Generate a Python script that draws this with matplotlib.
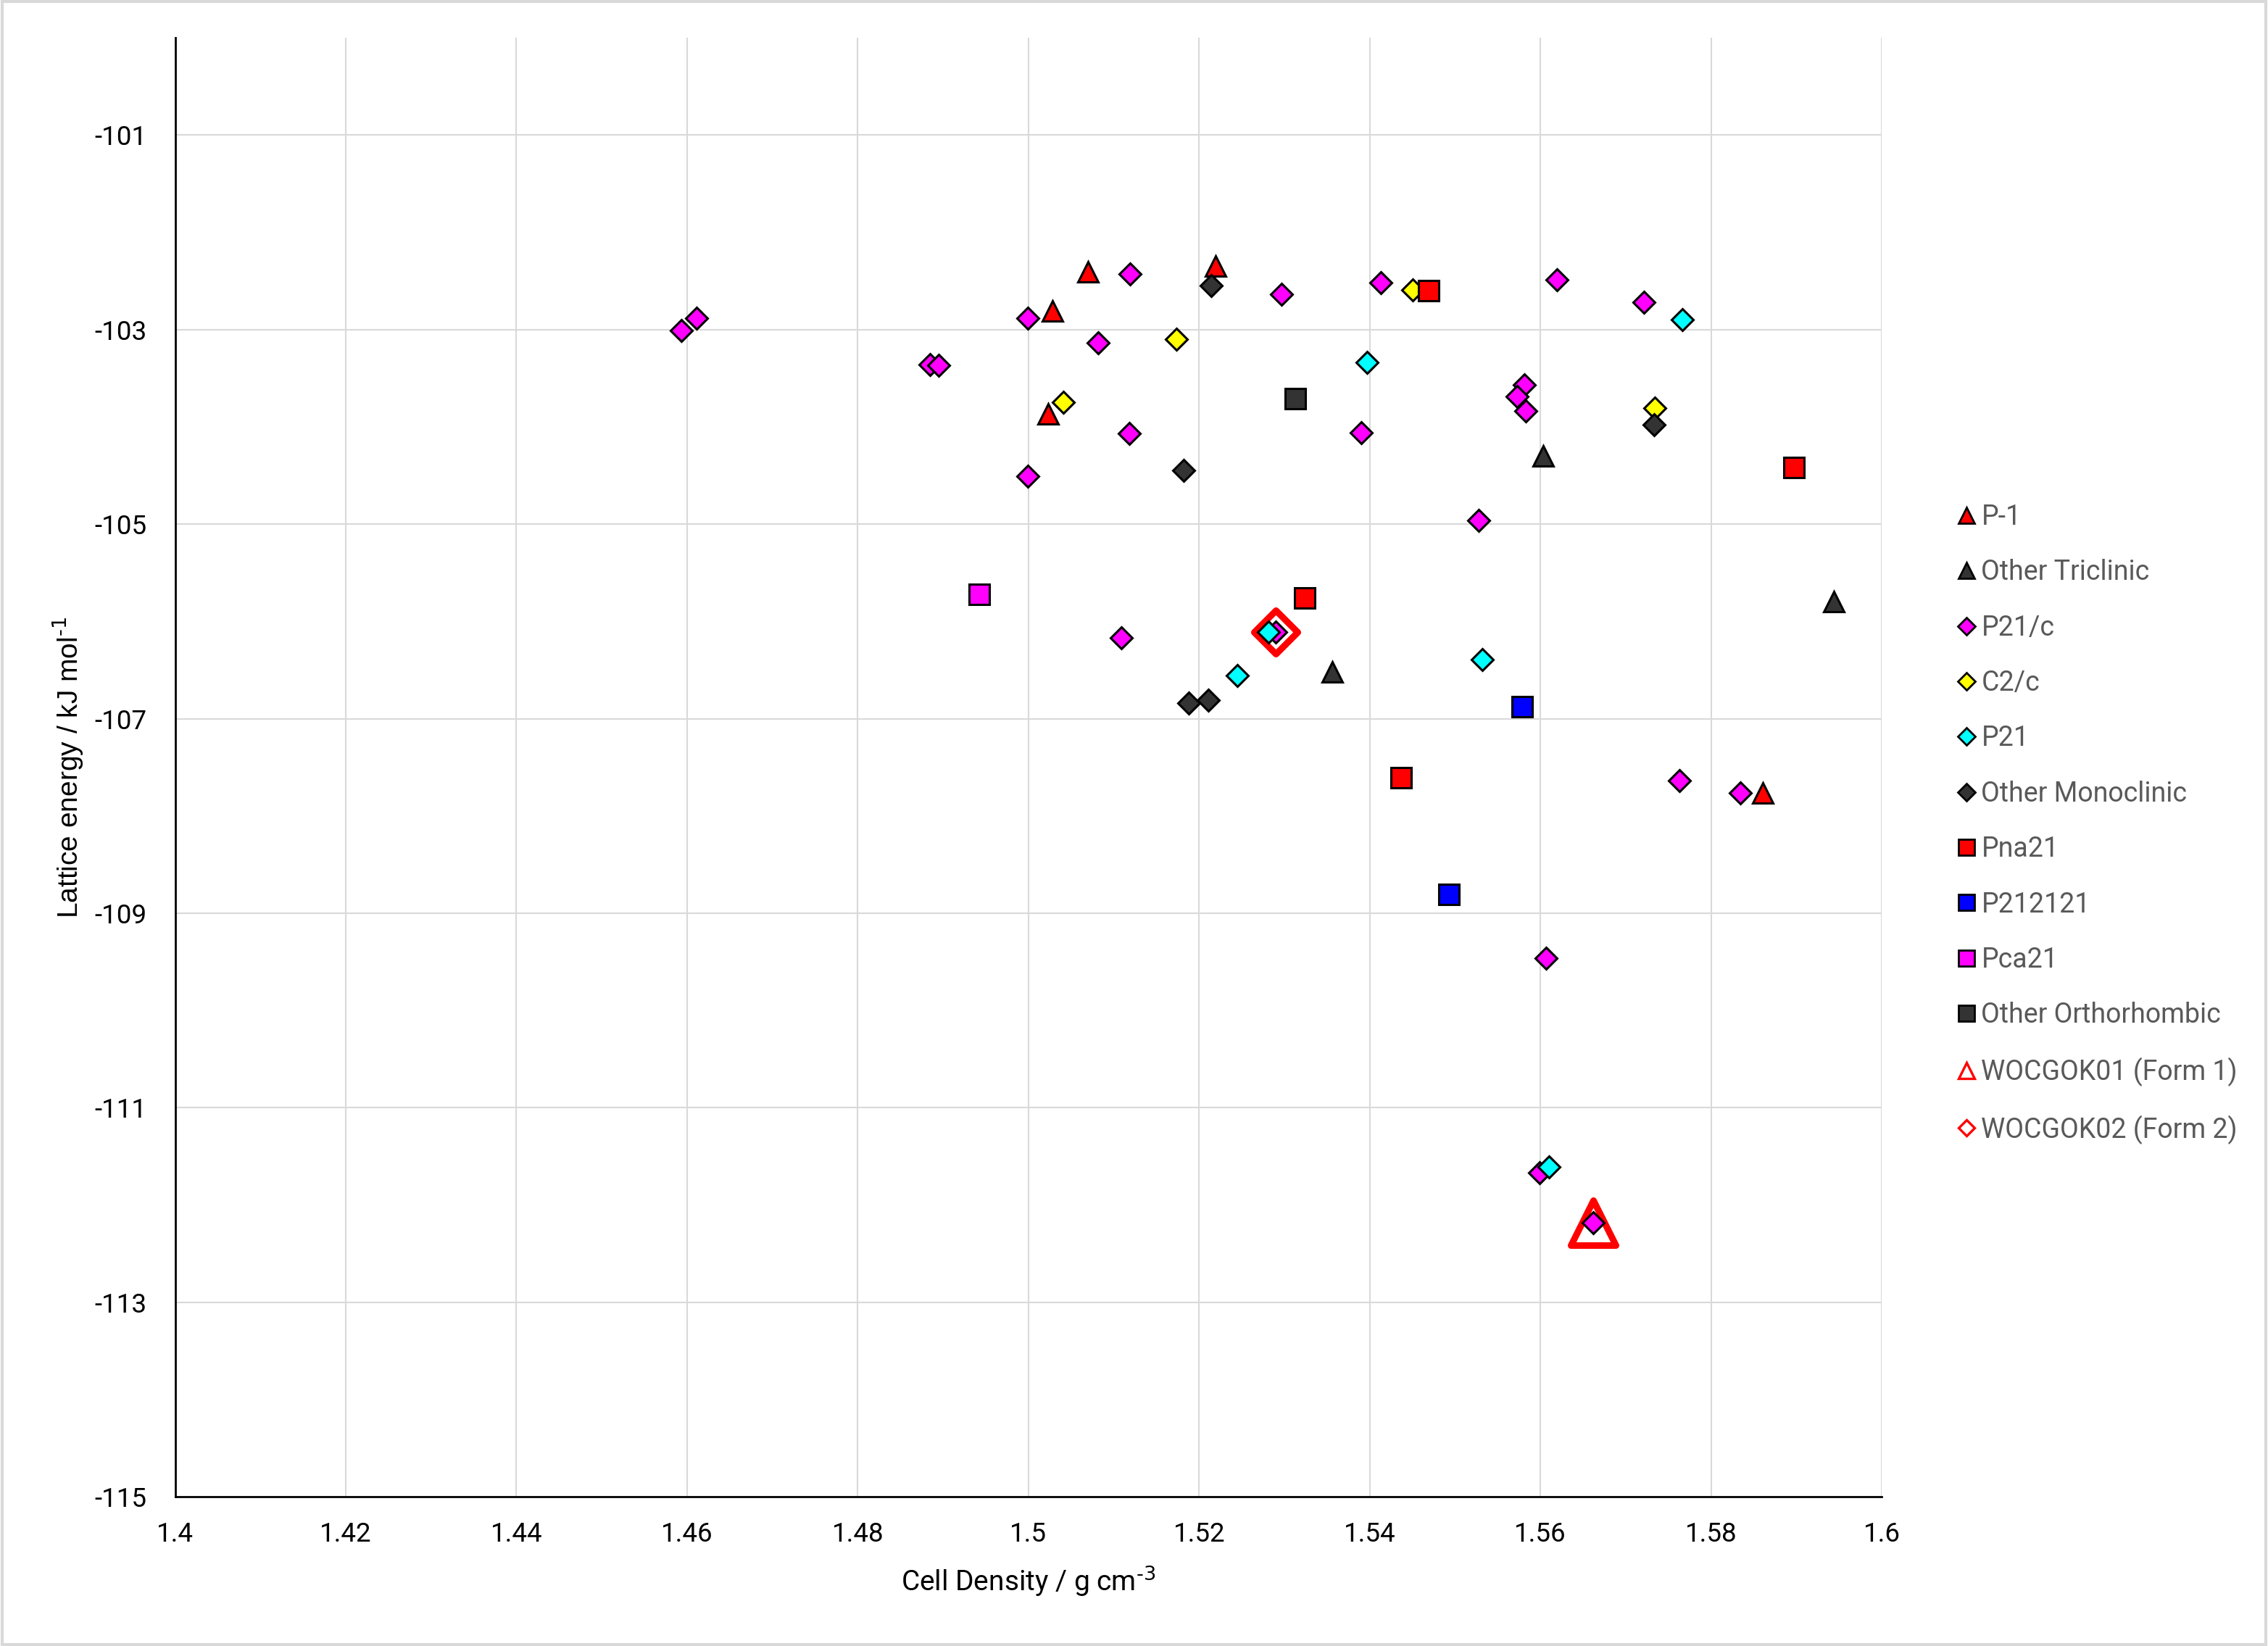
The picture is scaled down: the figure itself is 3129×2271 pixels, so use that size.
import matplotlib
matplotlib.use('Agg')
import matplotlib.pyplot as plt
from matplotlib.lines import Line2D
from matplotlib.markers import MarkerStyle
from matplotlib.patches import Rectangle

plt.rcParams['font.family'] = ['Roboto', 'DejaVu Sans']
plt.rcParams['axes.unicode_minus'] = False

# Data: cell density (g cm-3) vs lattice energy (kJ mol-1)
p1_x = [1.5070, 1.5219, 1.5028, 1.5023, 1.5861]
p1_y = [-102.41, -102.35, -102.81, -103.87, -107.76]

tric_x = [1.5603, 1.5356, 1.5944]
tric_y = [-104.30, -106.52, -105.80]

p21c_x = [1.4593, 1.4611, 1.4885, 1.4895, 1.4999, 1.5119, 1.5082, 1.5118, 1.4999,
          1.5297, 1.5413, 1.5619, 1.5721, 1.5581, 1.5573, 1.5583, 1.5390, 1.5528,
          1.5109, 1.5290, 1.5763, 1.5834, 1.5607, 1.5599, 1.5662]
p21c_y = [-103.01, -102.88, -103.36, -103.37, -102.88, -102.43, -103.14, -104.07, -104.51,
          -102.64, -102.52, -102.49, -102.72, -103.57, -103.69, -103.84, -104.06, -104.96,
          -106.17, -106.11, -107.64, -107.76, -109.46, -111.67, -112.18]

c2c_x = [1.5173, 1.5041, 1.5450, 1.5734]
c2c_y = [-103.10, -103.75, -102.59, -103.81]

p21_x = [1.5766, 1.5397, 1.5281, 1.5245, 1.5532, 1.5610]
p21_y = [-102.90, -103.34, -106.11, -106.56, -106.39, -111.61]

mono_x = [1.5214, 1.5182, 1.5733, 1.5188, 1.5211]
mono_y = [-102.55, -104.45, -103.98, -106.84, -106.81]

pna21_x = [1.5469, 1.5897, 1.5324, 1.5437]
pna21_y = [-102.60, -104.42, -105.76, -107.61]

p212121_x = [1.5579, 1.5493]
p212121_y = [-106.88, -108.81]

pca21_x = [1.4942]
pca21_y = [-105.72]

ortho_x = [1.5313]
ortho_y = [-103.71]

form1_x = [1.5662]
form1_y = [-112.18]
form2_x = [1.5290]
form2_y = [-106.11]

dark = '#333333'

# (label, x, y, marker, face colour, size)
series = [
    ('P-1', p1_x, p1_y, '^', '#ff0000', 20),
    ('Other Triclinic', tric_x, tric_y, '^', dark, 20),
    ('P21/c', p21c_x, p21c_y, 'D', '#ff00ff', 15),
    ('C2/c', c2c_x, c2c_y, 'D', '#ffff00', 15),
    ('P21', p21_x, p21_y, 'D', '#00ffff', 15),
    ('Other Monoclinic', mono_x, mono_y, 'D', dark, 15),
    ('Pna21', pna21_x, pna21_y, 's', '#ff0000', 20),
    ('P212121', p212121_x, p212121_y, 's', '#0000ff', 20),
    ('Pca21', pca21_x, pca21_y, 's', '#ff00ff', 20),
    ('Other Orthorhombic', ortho_x, ortho_y, 's', dark, 20),
]

fig = plt.figure(figsize=(31.29, 22.71), dpi=100)
ax = fig.add_axes([0.0772, 0.0906, 0.7525, 0.8865])

# experimental forms go underneath
ax.plot(form1_x, form1_y, linestyle='none', marker=MarkerStyle('^', joinstyle='round'),
        ms=44, mfc='none', mec='#ff0000', mew=6.5, zorder=2)
ax.plot(form2_x, form2_y, linestyle='none', marker=MarkerStyle('D', joinstyle='round'),
        ms=31, mfc='none', mec='#ff0000', mew=6.5, zorder=2)

handles = []
for label, xs, ys, mk, fc, sz in series:
    ax.plot(xs, ys, linestyle='none', marker=mk, ms=sz, mfc=fc, mec='black', mew=2.2, zorder=3)
    handles.append(Line2D([], [], linestyle='none', marker=mk, ms=sz * 0.8, mfc=fc, mec='black',
                          mew=2, label=label))
handles.append(Line2D([], [], linestyle='none', marker='^', ms=15.5, mfc='none', mec='#ff0000',
                      mew=2.4, label='WOCGOK01 (Form 1)'))
handles.append(Line2D([], [], linestyle='none', marker='D', ms=11.5, mfc='none', mec='#ff0000',
                      mew=2.4, label='WOCGOK02 (Form 2)'))

ax.set_xlim(1.4, 1.6)
ax.set_ylim(-115, -100)
ax.set_xticks([1.4 + 0.02 * i for i in range(11)])
ax.set_xticklabels(['1.4', '1.42', '1.44', '1.46', '1.48', '1.5', '1.52', '1.54', '1.56', '1.58', '1.6'])
ax.set_yticks(list(range(-115, -100, 2)))
ax.grid(True, color='#d9d9d9', linewidth=1.5, zorder=0)
ax.set_axisbelow(True)
for s in ['top', 'right']:
    ax.spines[s].set_visible(False)
for s in ['left', 'bottom']:
    ax.spines[s].set_linewidth(2)
    ax.spines[s].set_color('black')
ax.tick_params(length=0, labelsize=26.5, colors='black')
ax.tick_params(axis='y', pad=28)
ax.tick_params(axis='x', pad=24)

ax.set_xlabel(r'Cell Density / g cm$^{\text{-}3}$', fontsize=28, labelpad=16)
ax.set_ylabel(r'Lattice energy / kJ mol$^{\text{-}1}$', fontsize=28, labelpad=10,
              family=['Liberation Sans', 'DejaVu Sans'])

leg = fig.legend(handles=handles, loc='upper left', bbox_to_anchor=(0.8562, 0.7006),
                 frameon=False, fontsize=27, labelspacing=1.05, handletextpad=0.05,
                 handlelength=1.0, borderaxespad=0)
for t in leg.get_texts():
    t.set_color('#595959')

# light grey chart border
fig.patches.append(Rectangle((0.001, 0.001), 0.998, 0.998, transform=fig.transFigure,
                             fill=False, edgecolor='#d9d9d9', linewidth=3))

fig.savefig('out.png', dpi=100)
